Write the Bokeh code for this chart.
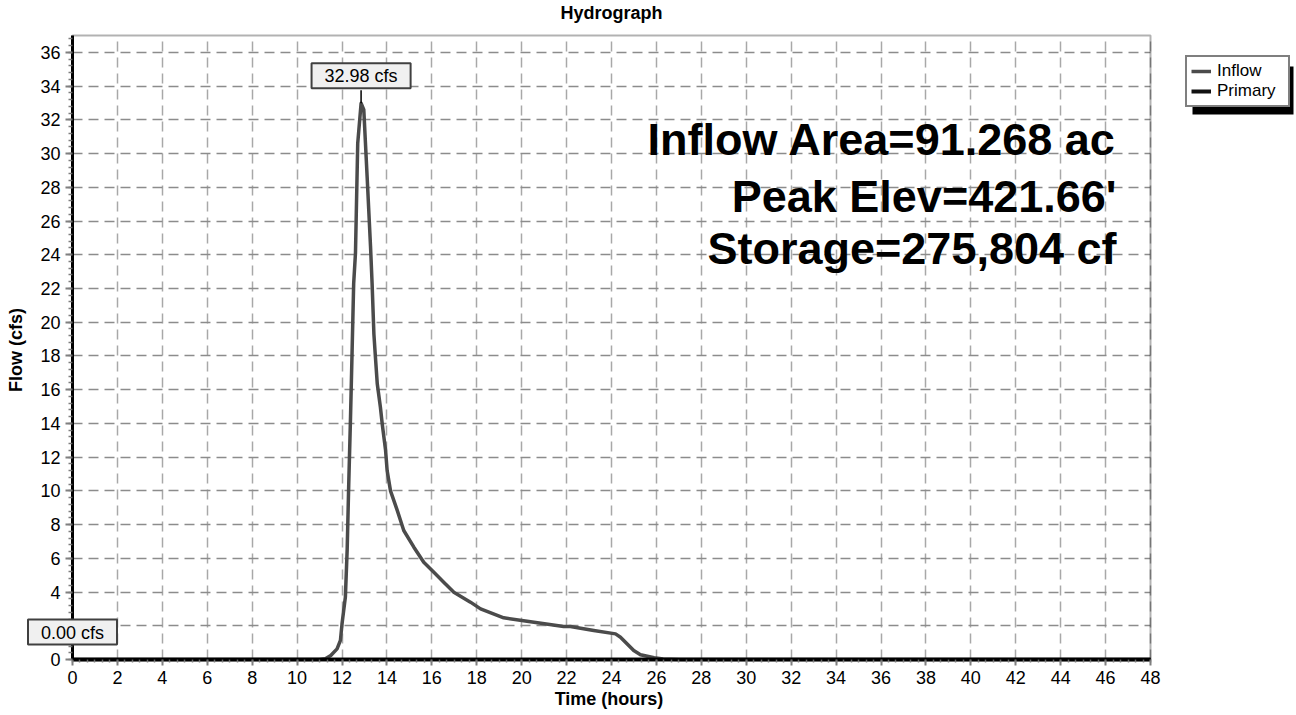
import numpy as np
from bokeh.plotting import figure
from bokeh.models import (Label, Legend, LegendItem, BoxAnnotation, Range1d, FixedTicker, Grid)
from bokeh.embed import file_html
from bokeh.resources import INLINE

# Hydrograph series (hours, cfs)
time_h = [0.0, 11.0, 11.26, 11.5, 11.78, 11.93, 12.0, 12.15, 12.23, 12.3, 12.38,
          12.45, 12.52, 12.6, 12.7, 12.85, 12.97, 13.12, 13.27, 13.34, 13.42,
          13.49, 13.57, 13.71, 13.79, 13.94, 14.01, 14.16, 14.46, 14.75, 15.2,
          15.64, 16.09, 16.53, 16.98, 17.72, 18.17, 19.2, 20.24, 21.87, 22.17,
          23.21, 24.18, 24.4, 24.99, 25.29, 25.9, 26.3, 27.0, 48.0]
inflow_cfs = [0.0, 0.0, 0.04, 0.24, 0.63, 1.13, 2.1, 3.7, 6.5, 10.4, 14.4,
              18.3, 22.3, 24.1, 30.6, 32.98, 32.6, 28.6, 24.5, 22.3, 19.3,
              17.9, 16.35, 14.96, 13.98, 12.4, 11.2, 10.0, 8.84, 7.65, 6.66,
              5.77, 5.18, 4.58, 3.99, 3.4, 3.0, 2.47, 2.27, 1.96, 1.96,
              1.72, 1.52, 1.32, 0.53, 0.28, 0.1, 0.03, 0.0, 0.0]
primary_time_h = [0.0, 48.0]
primary_cfs = [0.0, 0.0]

series_names = ["Inflow", "Primary"]
summary_lines = ["Inflow Area=91.268 ac", "Peak Elev=421.66'", "Storage=275,804 cf"]

x_ticks = list(range(0, 49, 2))
y_ticks = list(range(0, 37, 2))
X_MAX, Y_MAX = 48, 37

# Canvas and plotting-area geometry (pixels)
W, H = 1296, 715
AREA_L, AREA_R, AREA_T, AREA_B = 72, 1150, 35, 659
px_x = (AREA_R - AREA_L) / X_MAX
px_y = (AREA_B - AREA_T) / Y_MAX

FONT = "Liberation Sans"

# The frame spans the whole canvas so that callouts, legend and title are never clipped;
# the axes are pinned at the data origin.
p = figure(width=W, height=H,
           x_range=Range1d(-AREA_L / px_x, X_MAX + (W - AREA_R) / px_x),
           y_range=Range1d(-(H - AREA_B) / px_y, Y_MAX + AREA_T / px_y),
           output_backend="svg", toolbar_location=None, title_location=None,
           min_border=0, min_border_left=0, min_border_right=0,
           min_border_top=0, min_border_bottom=0,
           background_fill_color="white", border_fill_color="white")
p.outline_line_color = None

p.xaxis.ticker = FixedTicker(ticks=x_ticks, minor_ticks=list(np.round(np.arange(0, X_MAX + 0.01, 1 / 3), 4)))
p.yaxis.ticker = FixedTicker(ticks=y_ticks, minor_ticks=list(np.round(np.arange(0, Y_MAX + 0.01, 0.4), 4)))
p.xaxis.fixed_location = 0
p.yaxis.fixed_location = 0
p.xaxis.bounds = (0, X_MAX)
p.yaxis.bounds = (0, Y_MAX)

for ax in (p.xaxis[0], p.yaxis[0]):
    ax.axis_line_color = "black"
    ax.axis_line_width = 3
    ax.major_tick_line_color = "#7f7f7f"
    ax.major_tick_line_width = 2
    ax.major_tick_in = 0
    ax.minor_tick_line_color = "#7f7f7f"
    ax.minor_tick_line_width = 1.5
    ax.minor_tick_in = 0
    ax.major_label_text_font = FONT
    ax.major_label_text_font_size = "18px"
    ax.major_label_text_color = "black"
    ax.major_label_standoff = 5
    ax.axis_label_text_font = FONT
    ax.axis_label_text_font_size = "18px"
    ax.axis_label_text_font_style = "bold"
    ax.axis_label_text_color = "black"

p.xaxis.major_tick_out = 6
p.xaxis.minor_tick_out = 3
p.yaxis.major_tick_out = 7
p.yaxis.minor_tick_out = 4
p.xaxis.axis_label = "Time  (hours)"
p.yaxis.axis_label = "Flow  (cfs)"
p.xaxis.axis_label_standoff = 2
p.yaxis.axis_label_standoff = 11

# Dashed grid restricted to the plotting area
has_cross = "cross_bounds" in Grid.properties()
p.xgrid.bounds = (0, X_MAX)
p.ygrid.bounds = (0, Y_MAX)
if has_cross:
    p.xgrid.cross_bounds = (0, Y_MAX)
    p.ygrid.cross_bounds = (0, X_MAX)
    p.xgrid.grid_line_color = "#a8a8a8"
    p.ygrid.grid_line_color = "#8c8c8c"
    for g in (p.xgrid[0], p.ygrid[0]):
        g.grid_line_width = 1.5
        g.grid_line_dash = "10 6"
else:
    p.xgrid.visible = False
    p.ygrid.visible = False
    p.segment(x0=x_ticks, y0=[0] * len(x_ticks), x1=x_ticks, y1=[Y_MAX] * len(x_ticks),
              line_color="#a8a8a8", line_width=1.5, line_dash="10 6")
    p.segment(x0=[0] * len(y_ticks), y0=y_ticks, x1=[X_MAX] * len(y_ticks), y1=y_ticks,
              line_color="#8c8c8c", line_width=1.5, line_dash="10 6")

# Top and right border of the plotting area
p.add_layout(BoxAnnotation(left=0, right=X_MAX, bottom=0, top=Y_MAX,
                           fill_alpha=0, line_color="black", line_width=2))

r_in = p.line(time_h, inflow_cfs, line_color="#4b4b4b", line_width=3.5, line_join="round")
r_pr = p.line(primary_time_h, primary_cfs, line_color="#111111", line_width=4)

# Peak callouts: a boxed value sitting just above each series' maximum
LEAD_PX = 13
for t_vals, q_vals in ((time_h, inflow_cfs), (primary_time_h, primary_cfs)):
    i = int(np.argmax(q_vals))
    t_pk, q_pk = t_vals[i], q_vals[i]
    p.segment(x0=[t_pk], y0=[q_pk], x1=[t_pk], y1=[q_pk + LEAD_PX / px_y],
              line_color="black", line_width=1.5)
    p.add_layout(Label(x=t_pk, y=q_pk, text=f"{q_pk:.2f} cfs", text_align="center",
                       text_baseline="bottom", y_offset=LEAD_PX + 2,
                       text_font=FONT, text_font_size="18px", text_color="black",
                       background_fill_color="#f0f0f0", background_fill_alpha=1,
                       border_line_color="#404040", border_line_width=2,
                       padding=dict(left=13, right=13, top=3, bottom=2)))

# Title (vertical middle of the text, pixels from the top)
p.add_layout(Label(x=(AREA_L + AREA_R) / 2, y=H - 12, x_units="screen", y_units="screen",
                   text="Hydrograph", text_align="center", text_baseline="middle",
                   text_font=FONT, text_font_size="18px", text_font_style="bold",
                   text_color="black"))

# Summary block, right aligned inside the plotting area
line_middles = [139, 195.5, 248]
for line_text, mid in zip(summary_lines, line_middles):
    p.add_layout(Label(x=1116, y=H - mid, x_units="screen", y_units="screen",
                       text=line_text, text_align="right", text_baseline="middle",
                       text_font=FONT, text_font_size="45px", text_font_style="bold",
                       text_color="black"))

# Legend with drop shadow
LEG_L, LEG_T, LEG_W, LEG_H = 1185, 59, 101, 48
SHADOW = 7
p.add_layout(BoxAnnotation(left=LEG_L + SHADOW, right=LEG_L + SHADOW + LEG_W,
                           top=H - (LEG_T + SHADOW), bottom=H - (LEG_T + SHADOW + LEG_H),
                           left_units="screen", right_units="screen",
                           top_units="screen", bottom_units="screen",
                           fill_color="black", fill_alpha=1, line_alpha=0))

legend = Legend(items=[LegendItem(label=series_names[0], renderers=[r_in]),
                       LegendItem(label=series_names[1], renderers=[r_pr])],
                location=(LEG_L, H - (LEG_T + LEG_H)),
                padding=4, spacing=0, margin=0,
                glyph_width=20, glyph_height=20, label_height=20, label_width=67,
                label_standoff=6,
                border_line_color="black", border_line_width=2,
                background_fill_color="white", background_fill_alpha=1,
                label_text_font=FONT, label_text_font_size="17px", label_text_color="black")
p.add_layout(legend)

open("out.html", "w").write(file_html(p, INLINE))
